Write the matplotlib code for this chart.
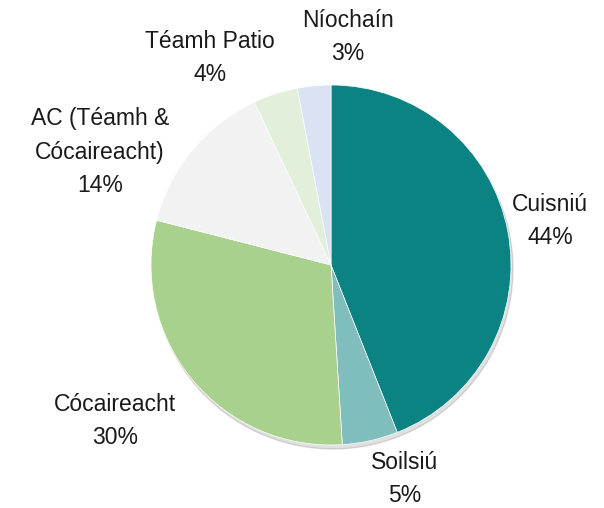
import matplotlib.pyplot as plt

categories = ["Cuisniú", "Soilsiú", "Cócaireacht", "AC (Téamh &\nCócaireacht)", "Téamh Patio", "Níochaín"]
shares = [44, 5, 30, 14, 4, 3]
colors = ["#0b8383", "#80bdbd", "#a9d18e", "#f2f2f2", "#e2efda", "#dae3f3"]

# label anchor points (pixels, y from top)
label_xy = [(550, 221), (405, 479), (115, 421), (100, 152), (210, 58), (348, 37)]

plt.rcParams["font.family"] = ["Liberation Sans", "DejaVu Sans"]

fig = plt.figure(figsize=(6.04, 5.08), dpi=100)
ax = fig.add_axes([0, 0, 1, 1])

cx, cy, r = 331, 508 - 265, 180
# soft shadow
shadow = plt.Circle((cx + 2, cy - 4), r, color="#000000", alpha=0.12, zorder=0)
ax.add_patch(shadow)
ax.pie(shares, colors=colors, startangle=90, counterclock=False,
       center=(cx, cy), radius=r, frame=True,
       wedgeprops=dict(linewidth=0.5, edgecolor="white"))
ax.set_xlim(0, 604)
ax.set_ylim(0, 508)
ax.set_aspect("equal")
ax.axis("off")

for name, val, (x, y) in zip(categories, shares, label_xy):
    ax.text(x, 508 - y, f"{name}\n{val}%", ha="center", va="center",
            fontsize=16.5, color="#1a1a1a", linespacing=1.6)

fig.savefig("out.png", dpi=100)
